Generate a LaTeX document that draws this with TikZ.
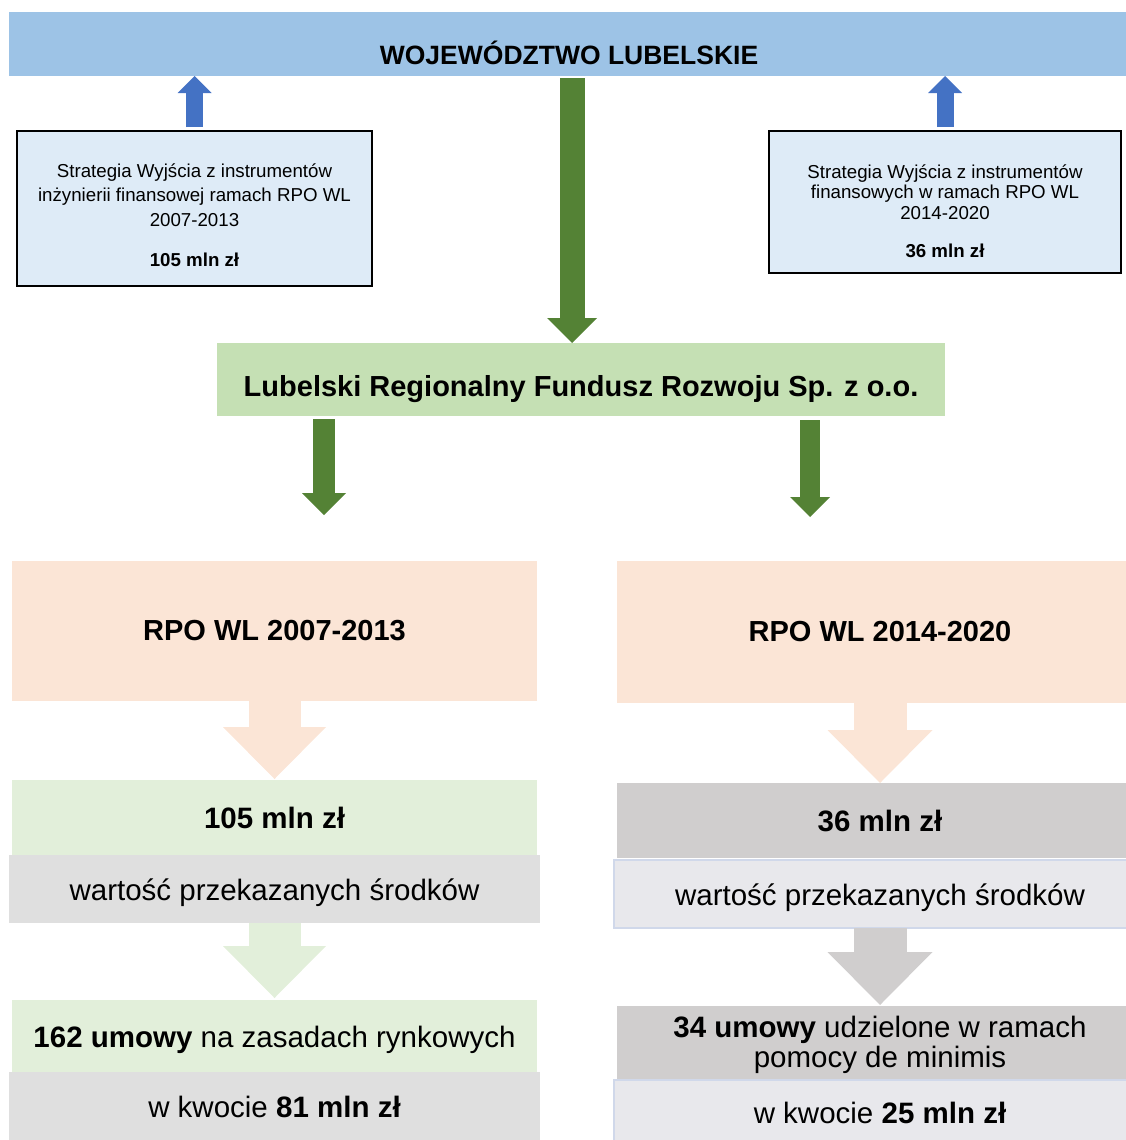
\documentclass[tikz,border=0pt]{standalone}
\usepackage{fontspec}
\setmainfont{Liberation Sans}
\usetikzlibrary{arrows.meta}
\definecolor{ink}{HTML}{000000}
\definecolor{bannerfill}{HTML}{9DC3E6}
\definecolor{stratfill}{HTML}{DEEBF7}
\definecolor{arrowblue}{HTML}{4472C4}
\definecolor{arrowgreen}{HTML}{548235}
\definecolor{fundfill}{HTML}{C5E0B4}
\definecolor{peachfill}{HTML}{FBE5D6}
\definecolor{mintfill}{HTML}{E2EFDA}
\definecolor{greyfill}{HTML}{DFDFDF}
\definecolor{darkgrey}{HTML}{D0CECE}
\definecolor{palefill}{HTML}{E8E8EC}
\definecolor{paleedge}{HTML}{D0D8EA}
\tikzset{
  block/.style={rectangle,inner sep=0pt,outer sep=0pt,align=center},
  banner/.style={block,fill=bannerfill,font=\fontsize{26.5}{30}\selectfont\bfseries},
  strat/.style={block,draw=ink,fill=stratfill,line width=1.5pt},
  fund/.style={block,fill=fundfill,font=\fontsize{29}{32}\selectfont\bfseries},
  prog/.style={block,fill=peachfill,font=\fontsize{29}{32}\selectfont\bfseries},
  cell/.style={block,font=\fontsize{29.5}{30}\selectfont},
  mint/.style={cell,fill=mintfill},
  grey/.style={cell,fill=greyfill},
  dgrey/.style={cell,fill=darkgrey},
  pale/.style={cell,fill=palefill,draw=paleedge,line width=1.5pt},
  fat/.style 2 args={line width=#1,-{Triangle[width=#2,length=#1,line width=0pt]}}
}

\begin{document}
\begin{tikzpicture}[x=1pt,y=-1pt]
  \useasboundingbox (0,0) rectangle (1126,1140);

  \node[banner,minimum width=1120pt,minimum height=64pt,text height=40pt,text depth=0pt] (banner) at (569,44) {WOJEWÓDZTWO LUBELSKIE};
  \node[strat,minimum width=355pt,minimum height=155pt,font=\fontsize{18.7}{24.5}\selectfont] (lstrat) at (194.5,208.5)
    {\rule{0pt}{27pt}Strategia Wyjścia z instrumentów\\inżynierii finansowej ramach RPO WL\\2007-2013\\[16pt]\textbf{105 mln zł}};
  \node[strat,minimum width=352pt,minimum height=142pt,font=\fontsize{18.7}{20.5}\selectfont] (rstrat) at (945,202)
    {\rule{0pt}{32.5pt}Strategia Wyjścia z instrumentów\\finansowych w ramach RPO WL\\2014-2020\\[18pt]\textbf{36 mln zł}};
  \node[fund,minimum width=728pt,minimum height=73pt,text height=40pt,text depth=6pt] (fund) at (581,379.5) {Lubelski Regionalny Fundusz Rozwoju Sp. z o.o.};

  % left column: 2007-2013
  \node[prog,minimum width=525pt,minimum height=140pt] (lprog) at (274.5,631) {RPO WL 2007-2013};
  \node[mint,minimum width=525pt,minimum height=75pt] (lval) at (274.5,817.5) {\textbf{105 mln zł}};
  \node[grey,minimum width=531pt,minimum height=68pt,text height=28pt,text depth=6pt] (lgrey) at (274.5,889) {wartość przekazanych środków};
  \node[mint,minimum width=525pt,minimum height=72pt,text height=29.5pt,text depth=6pt] (ldeal) at (274.5,1036) {\textbf{162 umowy} na zasadach rynkowych};
  \node[grey,minimum width=531pt,minimum height=70pt] (lsum) at (274.5,1107) {w kwocie \textbf{81 mln zł}};

  % right column: 2014-2020
  \node[prog,minimum width=526pt,minimum height=142pt] (rprog) at (880,632) {RPO WL 2014-2020};
  \node[dgrey,minimum width=526pt,minimum height=75pt] (rval) at (880,820.5) {\textbf{36 mln zł}};
  \node[pale,minimum width=532pt,minimum height=68pt,text height=28pt,text depth=6pt] (rpale) at (880,894) {wartość przekazanych środków};
  \node[dgrey,minimum width=526pt,minimum height=74pt] (rdeal) at (880,1043) {\rule{0pt}{26pt}\textbf{34 umowy} udzielone w ramach\\pomocy de minimis};
  \node[pale,minimum width=532pt,minimum height=66pt] (rsum) at (880,1113) {w kwocie \textbf{25 mln zł}};

  \coordinate (cmid) at ([xshift=-9pt]fund.north);
  \coordinate (cleft) at ([xshift=-257pt]fund.south);
  \coordinate (cright) at ([xshift=229pt]fund.south);

  \draw[fat={17pt}{34pt},draw=arrowblue,shorten <=4pt] (lstrat.north) -- (lstrat.north |- banner.south);
  \draw[fat={17pt}{34pt},draw=arrowblue,shorten <=4pt] (rstrat.north) -- (rstrat.north |- banner.south);
  \draw[fat={25pt}{50pt},draw=arrowgreen,shorten <=2pt] (cmid |- banner.south) -- (cmid);
  \draw[fat={22pt}{44pt},draw=arrowgreen,shorten <=3pt,shorten >=46pt] (cleft) -- (cleft |- lprog.north);
  \draw[fat={20pt}{40pt},draw=arrowgreen,shorten <=4pt,shorten >=44pt] (cright) -- (cright |- rprog.north);
  \draw[fat={52pt}{103pt},draw=peachfill,shorten >=1pt] (lprog.south) -- (lval.north);
  \draw[fat={53pt}{105pt},draw=peachfill] (rprog.south) -- (rval.north);
  \draw[fat={52pt}{103pt},draw=mintfill,shorten >=2pt] (lgrey.south) -- (ldeal.north);
  \draw[fat={53pt}{105pt},draw=darkgrey,shorten >=1pt] (rpale.south) -- (rdeal.north);
\end{tikzpicture}
\end{document}
